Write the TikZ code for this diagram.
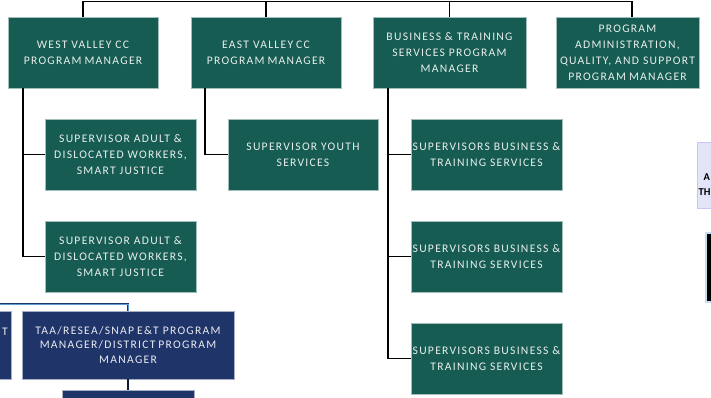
\documentclass[tikz,border=0pt]{standalone}
\usepackage{fontspec}
\setmainfont{Carlito}[LetterSpace=11]
\newfontfamily\plainfont{Carlito}
\definecolor{grn}{HTML}{175C52}
\definecolor{navyb}{HTML}{1F3468}
\definecolor{lbl}{HTML}{5B9BD5}
\definecolor{lav}{HTML}{E4E4F9}
\newcommand{\dsp}{\hspace{3pt}}
\begin{document}
\begin{tikzpicture}[x=1pt,y=-1pt,
  gbox/.style={draw=grn!40!white, line width=0.5pt, fill=grn, text=white!90!grn, align=center, inner sep=0pt, font=\fontsize{11.6}{16}\selectfont},
  nbox/.style={draw=navyb!40!white, line width=0.5pt, fill=navyb, text=white!90!navyb, align=center, inner sep=0pt, font=\fontsize{11.6}{14.5}\selectfont},
  conn/.style={draw=black, line width=1.8pt},
  blueconn/.style={draw=navyb, double=lbl, double distance=1pt, line width=0.7pt},
  lavtext/.style={text=black, inner sep=0pt, anchor=west, font=\plainfont\bfseries\fontsize{10.5}{12}\selectfont}
]
\useasboundingbox (0,0) rectangle (711,397);
\clip (0,0) rectangle (711,397);

% top level managers
\node[gbox, minimum width=150, minimum height=71] (wv) at (83,52.5) {WEST VALLEY CC\\PROGRAM\dsp MANAGER};
\node[gbox, minimum width=150, minimum height=71] (ev) at (266,52.5) {EAST VALLEY\dsp CC\\PROGRAM\dsp MANAGER};
\node[gbox, minimum width=153, minimum height=71] (bt) at (449.5,52.5) {BUSINESS \& TRAINING\\SERVICES PROGRAM\\MANAGER};
\node[gbox, minimum width=143, minimum height=71] (pa) at (627.5,52.5) {PROGRAM\\ADMINISTRATION,\\QUALITY, AND SUPPORT\\PROGRAM\dsp MANAGER};

% supervisors
\node[gbox, minimum width=151, minimum height=71] (sa1) at (120.5,154.5) {SUPERVISOR ADULT \&\\DISLOCATED WORKERS,\\SMART JUSTICE};
\node[gbox, minimum width=151, minimum height=71] (sa2) at (120.5,256.5) {SUPERVISOR ADULT \&\\DISLOCATED WORKERS,\\SMART JUSTICE};
\node[gbox, minimum width=150, minimum height=71] (sy) at (303,154.5) {SUPERVISOR YOUTH\\SERVICES};
\node[gbox, minimum width=151, minimum height=71] (sb1) at (486.5,154.5) {SUPERVISORS BUSINESS \&\\TRAINING SERVICES};
\node[gbox, minimum width=151, minimum height=71] (sb2) at (486.5,256.5) {SUPERVISORS BUSINESS \&\\TRAINING SERVICES};
\node[gbox, minimum width=151, minimum height=71] (sb3) at (486.5,358.5) {SUPERVISORS BUSINESS \&\\TRAINING SERVICES};

% navy boxes
\node[nbox, minimum width=212, minimum height=68] (taa) at (128,345) {TAA/RESEA/SNAP\dsp E\&T PROGRAM\\MANAGER/DISTRICT\dsp PROGRAM\\MANAGER};
\node[nbox, minimum width=122, minimum height=68] (lp) at (-50,345) {};
\node[text=white!90!navyb, inner sep=0pt, font=\fontsize{11.6}{14.5}\selectfont] (lpt) at (5,332) {T};
\node[nbox, minimum width=132, minimum height=70] (bot) at (128,425) {};

% right side partial boxes
\node[draw=lav!70!blue!60!white, fill=lav, line width=0.6pt, minimum width=100, minimum height=66, inner sep=0pt] (lav) at (747,175) {};
\node[lavtext] (lava) at (703.5,177) {A};
\node[lavtext] (lavb) at (698.5,192) {TH};
\node[draw=lbl!35!white, fill=black, line width=1.2pt, minimum width=60, minimum height=69, inner sep=0pt] (blk) at (736,267.5) {};

% top connectors
\coordinate (t1) at (0,1.5);
\coordinate (t4) at (632,1.5);
\draw[conn] (wv.north) -- (wv.north |- t1) -- (t4) -- (t4 |- pa.north);
\draw[conn] (ev.north) -- (ev.north |- t1);
\draw[conn] (bt.north) -- (bt.north |- t1);

% west valley
\coordinate (wvl) at (23,0);
\draw[conn] (wv.south -| wvl) -- (wvl |- sa2.west) -- (sa2.west);
\draw[conn] (wvl |- sa1.west) -- (sa1.west);
% east valley
\coordinate (evl) at (205,0);
\draw[conn] (ev.south -| evl) -- (evl |- sy.west) -- (sy.west);
% business
\coordinate (btl) at (388,0);
\draw[conn] (bt.south -| btl) -- (btl |- sb3.west) -- (sb3.west);
\draw[conn] (btl |- sb1.west) -- (sb1.west);
\draw[conn] (btl |- sb2.west) -- (sb2.west);

% bottom blue connectors
\coordinate (bl) at (0,304);
\draw[blueconn] (bl) -- (bl -| taa.north) -- (taa.north);
\draw[draw=navyb!50!black, line width=1.4pt] (taa.south) -- (bot.north);
\end{tikzpicture}
\end{document}
